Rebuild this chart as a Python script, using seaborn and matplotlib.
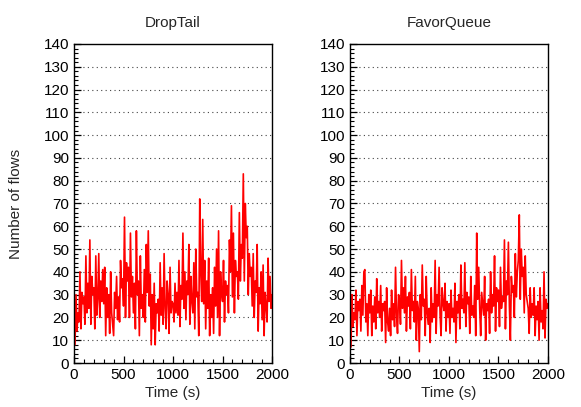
import numpy as np
import pandas as pd
import matplotlib
matplotlib.use("Agg")
import matplotlib.pyplot as plt
from matplotlib.ticker import MultipleLocator
import seaborn as sns

# Sample times (s), one reading every 10 s
time_s = list(range(0, 2001, 10))

droptail_flows = [
    24, 8, 30, 14, 22,   18, 40, 15, 31, 26,   29, 17, 47, 22, 35,   24, 54, 17, 38, 30,
    33, 15, 47, 21, 28,  48, 20, 36, 27, 41,   26, 42, 12, 33, 20,   30, 13, 40, 22, 17,
    12, 31, 24, 38, 19,  29, 18, 45, 33, 37,   25, 64, 20, 44, 36,   42, 20, 57, 29, 38,
    22, 35, 15, 58, 30,  36, 12, 47, 24, 30,   20, 41, 18, 52, 31,   58, 25, 39, 8, 30,
    15, 35, 8, 26, 22,   28, 14, 44, 21, 33,   17, 48, 24, 15, 36,   30, 13, 42, 22, 27,
    26, 18, 35, 22, 31,  21, 45, 16, 34, 28,   57, 24, 40, 19, 36,   30, 52, 17, 38, 27,
    22, 44, 15, 50, 29,  31, 12, 72, 40, 27,   63, 26, 45, 15, 36,   24, 46, 12, 30, 20,
    33, 13, 42, 25, 50,  20, 58, 12, 40, 31,   27, 45, 18, 36, 30,   34, 22, 54, 40, 69,
    29, 57, 22, 45, 38,  40, 28, 66, 36, 52,   46, 83, 36, 70, 55,   60, 30, 48, 38, 42,
    25, 48, 20, 36, 31,  52, 14, 33, 26, 40,   19, 43, 12, 31, 25,   18, 46, 27, 38, 24,
    30,
]

favorqueue_flows = [
    25, 7, 30, 16, 22,   19, 32, 12, 27, 23,   28, 14, 34, 21, 40,   41, 18, 26, 12, 30,
    22, 32, 12, 25, 18,  29, 15, 37, 22, 27,   20, 34, 14, 26, 23,   27, 9, 33, 18, 14,
    24, 12, 32, 19, 26,  16, 42, 21, 13, 30,   28, 17, 45, 24, 33,   22, 38, 14, 29, 25,
    31, 15, 41, 23, 27,  18, 38, 10, 27, 24,   5, 30, 19, 43, 25,    28, 12, 38, 22, 17,
    24, 9, 33, 18, 26,   20, 45, 13, 30, 25,   42, 21, 12, 33, 26,   23, 35, 14, 27, 20,
    26, 13, 32, 20, 24,  18, 35, 9, 27, 22,    30, 15, 43, 24, 28,   22, 44, 16, 31, 26,
    29, 13, 38, 21, 25,  20, 34, 12, 57, 28,   42, 24, 12, 31, 26,   21, 38, 10, 26, 23,
    28, 13, 40, 22, 30,  25, 47, 14, 33, 27,   32, 16, 42, 24, 29,   27, 54, 15, 36, 30,
    53, 25, 10, 38, 31,  34, 20, 48, 29, 40,   45, 65, 28, 50, 38,   42, 22, 47, 30, 27,
    24, 13, 33, 20, 26,  21, 33, 12, 25, 19,   27, 10, 33, 18, 23,   15, 40, 11, 28, 24,
    26,
]

panel_titles = ["DropTail", "FavorQueue"]
x_ticks = [0, 500, 1000, 1500, 2000]
y_ticks = list(range(0, 141, 10))

sns.set_style("ticks")
plt.rcParams["font.family"] = ["Liberation Sans", "DejaVu Sans"]
plt.rcParams["font.size"] = 11

fig = plt.figure(figsize=(5.81, 4.07), dpi=100)
ax_l = fig.add_axes([0.1274, 0.1081, 0.3408, 0.7838])
ax_r = fig.add_axes([0.6024, 0.1081, 0.3408, 0.7838])

for ax, title, series in zip([ax_l, ax_r], panel_titles, [droptail_flows, favorqueue_flows]):
    df = pd.DataFrame({"t": time_s, "n": series})
    sns.lineplot(data=df, x="t", y="n", ax=ax, color="#ff0000", lw=1.2, estimator=None)
    ax.set_xlim(0, 2000)
    ax.set_ylim(0, 140)
    ax.set_xticks(x_ticks)
    ax.set_yticks(y_ticks)
    ax.xaxis.set_minor_locator(MultipleLocator(100))
    ax.yaxis.set_minor_locator(MultipleLocator(2))
    ax.tick_params(which="both", direction="in", top=False, right=False, labelsize=11, colors="black")
    ax.tick_params(which="major", length=5, width=0.9)
    ax.tick_params(which="minor", length=3, width=0.8)
    for yv in y_ticks[1:-1]:
        ax.axhline(yv, color="#444444", lw=0.8, ls=(0, (1, 3)), zorder=0)
    for sp in ax.spines.values():
        sp.set_visible(True)
        sp.set_color("black")
        sp.set_linewidth(1.0)
    ax.set_title(title, fontsize=11, pad=12)
    ax.set_xlabel("Time (s)", fontsize=11, labelpad=3)
    ax.set_ylabel("")

ax_l.set_ylabel("Number of flows", fontsize=11, labelpad=15)

fig.savefig("out.png", dpi=100)
